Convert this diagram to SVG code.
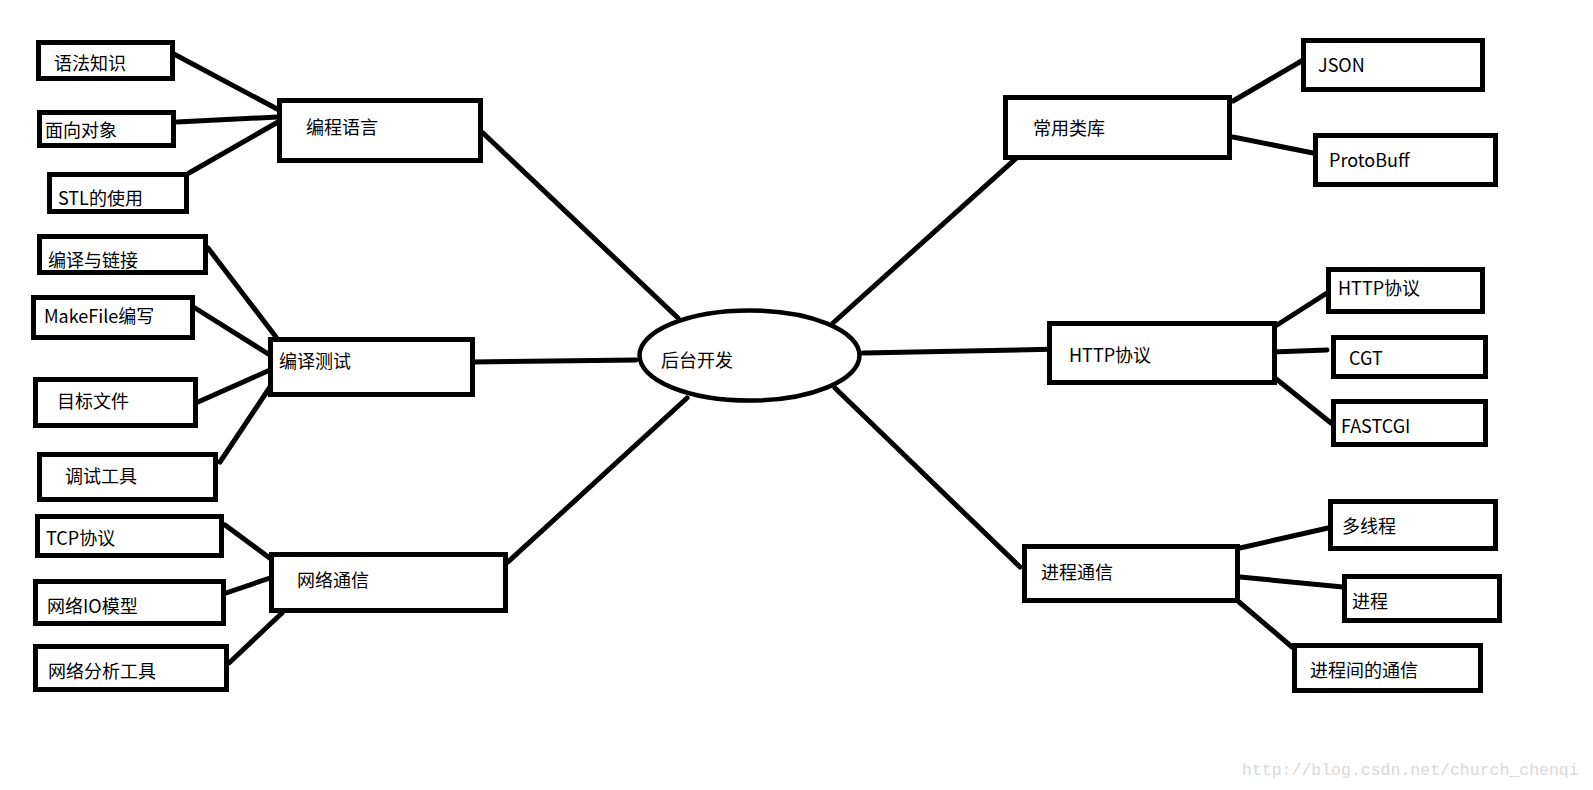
<svg xmlns="http://www.w3.org/2000/svg" width="1593" height="790" viewBox="0 0 1593 790">
<style>
.box{fill:#fff;stroke:#000;stroke-width:5}
.el{fill:#fff;stroke:#000;stroke-width:4.5}
.t{font-family:"Microsoft YaHei","Noto Sans CJK SC",sans-serif;font-size:18px;fill:#000}
.c line{stroke:#000;stroke-width:5;stroke-linecap:round}
.wm{font-family:"SimSun","Liberation Mono",monospace;font-size:16.5px;fill:#d9d9d9}
</style>
<rect width="1593" height="790" fill="#fff"/>
<g class="c" id="connectors">
<line x1="172" y1="53" x2="279" y2="110"/>
<line x1="177" y1="122" x2="278" y2="117"/>
<line x1="189" y1="173" x2="278" y2="122"/>
<line x1="483" y1="133" x2="678" y2="318"/>
<line x1="208" y1="248" x2="276" y2="337"/>
<line x1="195" y1="308" x2="273" y2="357"/>
<line x1="198" y1="402" x2="270" y2="370"/>
<line x1="220" y1="462" x2="270" y2="387"/>
<line x1="472" y1="362" x2="636" y2="360"/>
<line x1="225" y1="525" x2="275" y2="562"/>
<line x1="226" y1="593" x2="270" y2="578"/>
<line x1="229" y1="663" x2="282" y2="613"/>
<line x1="508" y1="562" x2="687" y2="398"/>
<line x1="833" y1="323" x2="1022" y2="153"/>
<line x1="863" y1="353" x2="1062" y2="349"/>
<line x1="835" y1="388" x2="1020" y2="567"/>
<line x1="1233" y1="101" x2="1305" y2="59"/>
<line x1="1233" y1="137" x2="1313" y2="153"/>
<line x1="1277" y1="325" x2="1327" y2="293"/>
<line x1="1272" y1="352" x2="1327" y2="350"/>
<line x1="1275" y1="378" x2="1331" y2="423"/>
<line x1="1240" y1="548" x2="1328" y2="528"/>
<line x1="1240" y1="577" x2="1343" y2="587"/>
<line x1="1239" y1="602" x2="1292" y2="647"/>
</g>
<g id="n-center"><ellipse class="el" cx="749.5" cy="355.5" rx="110" ry="45"/><text class="t" x="661" y="367">后台开发</text></g>
<g id="n-bcyy"><rect class="box" x="279.5" y="100.5" width="201" height="60"/><text class="t" x="306" y="134">编程语言</text></g>
<g id="n-yfzs"><rect class="box" x="38.5" y="42.5" width="134" height="36"/><text class="t" x="54" y="70">语法知识</text></g>
<g id="n-mxdx"><rect class="box" x="39.5" y="112.5" width="134" height="33"/><text class="t" x="45" y="137">面向对象</text></g>
<g id="n-stl"><rect class="box" x="49.5" y="174.5" width="137" height="37"/><text class="t" x="58" y="205">STL的使用</text></g>
<g id="n-bycs"><rect class="box" x="270.5" y="339.5" width="202" height="55"/><text class="t" x="279" y="368">编译测试</text></g>
<g id="n-byylj"><rect class="box" x="39.5" y="236.5" width="166" height="36"/><text class="t" x="48" y="267">编译与链接</text></g>
<g id="n-makefile"><rect class="box" x="33.5" y="297.5" width="159" height="40"/><text class="t" x="44" y="323">MakeFile编写</text></g>
<g id="n-mbwj"><rect class="box" x="35.5" y="379.5" width="160" height="46"/><text class="t" x="57" y="408">目标文件</text></g>
<g id="n-tsgj"><rect class="box" x="39.5" y="454.5" width="176" height="45"/><text class="t" x="65" y="483">调试工具</text></g>
<g id="n-wltx"><rect class="box" x="271.5" y="554.5" width="234" height="56"/><text class="t" x="297" y="587">网络通信</text></g>
<g id="n-tcp"><rect class="box" x="37.5" y="516.5" width="184" height="39"/><text class="t" x="46" y="545">TCP协议</text></g>
<g id="n-io"><rect class="box" x="35.5" y="581.5" width="188" height="42"/><text class="t" x="47" y="613">网络IO模型</text></g>
<g id="n-fxgj"><rect class="box" x="35.5" y="646.5" width="191" height="43"/><text class="t" x="48" y="678">网络分析工具</text></g>
<g id="n-cylk"><rect class="box" x="1005.5" y="97.5" width="224" height="60"/><text class="t" x="1033" y="135">常用类库</text></g>
<g id="n-json"><rect class="box" x="1303.5" y="40.5" width="179" height="49"/><text class="t" x="1318" y="72">JSON</text></g>
<g id="n-proto"><rect class="box" x="1315.5" y="135.5" width="180" height="49"/><text class="t" x="1329" y="167">ProtoBuff</text></g>
<g id="n-http"><rect class="box" x="1049.5" y="323.5" width="225" height="59"/><text class="t" x="1069" y="362">HTTP协议</text></g>
<g id="n-http2"><rect class="box" x="1328.5" y="269.5" width="154" height="42"/><text class="t" x="1338" y="295">HTTP协议</text></g>
<g id="n-cgt"><rect class="box" x="1333.5" y="337.5" width="152" height="39"/><text class="t" x="1349" y="365">CGT</text></g>
<g id="n-fastcgi"><rect class="box" x="1333.5" y="401.5" width="152" height="43"/><text class="t" x="1341" y="433">FASTCGI</text></g>
<g id="n-jctx"><rect class="box" x="1024.5" y="546.5" width="213" height="54"/><text class="t" x="1041" y="579">进程通信</text></g>
<g id="n-dxc"><rect class="box" x="1330.5" y="501.5" width="165" height="47"/><text class="t" x="1342" y="533">多线程</text></g>
<g id="n-jc"><rect class="box" x="1344.5" y="576.5" width="155" height="44"/><text class="t" x="1352" y="608">进程</text></g>
<g id="n-jcjtx"><rect class="box" x="1294.5" y="645.5" width="186" height="45"/><text class="t" x="1310" y="677">进程间的通信</text></g>
<text class="wm" x="1242" y="775">http://blog.csdn.net/church_chenqi</text>
</svg>
